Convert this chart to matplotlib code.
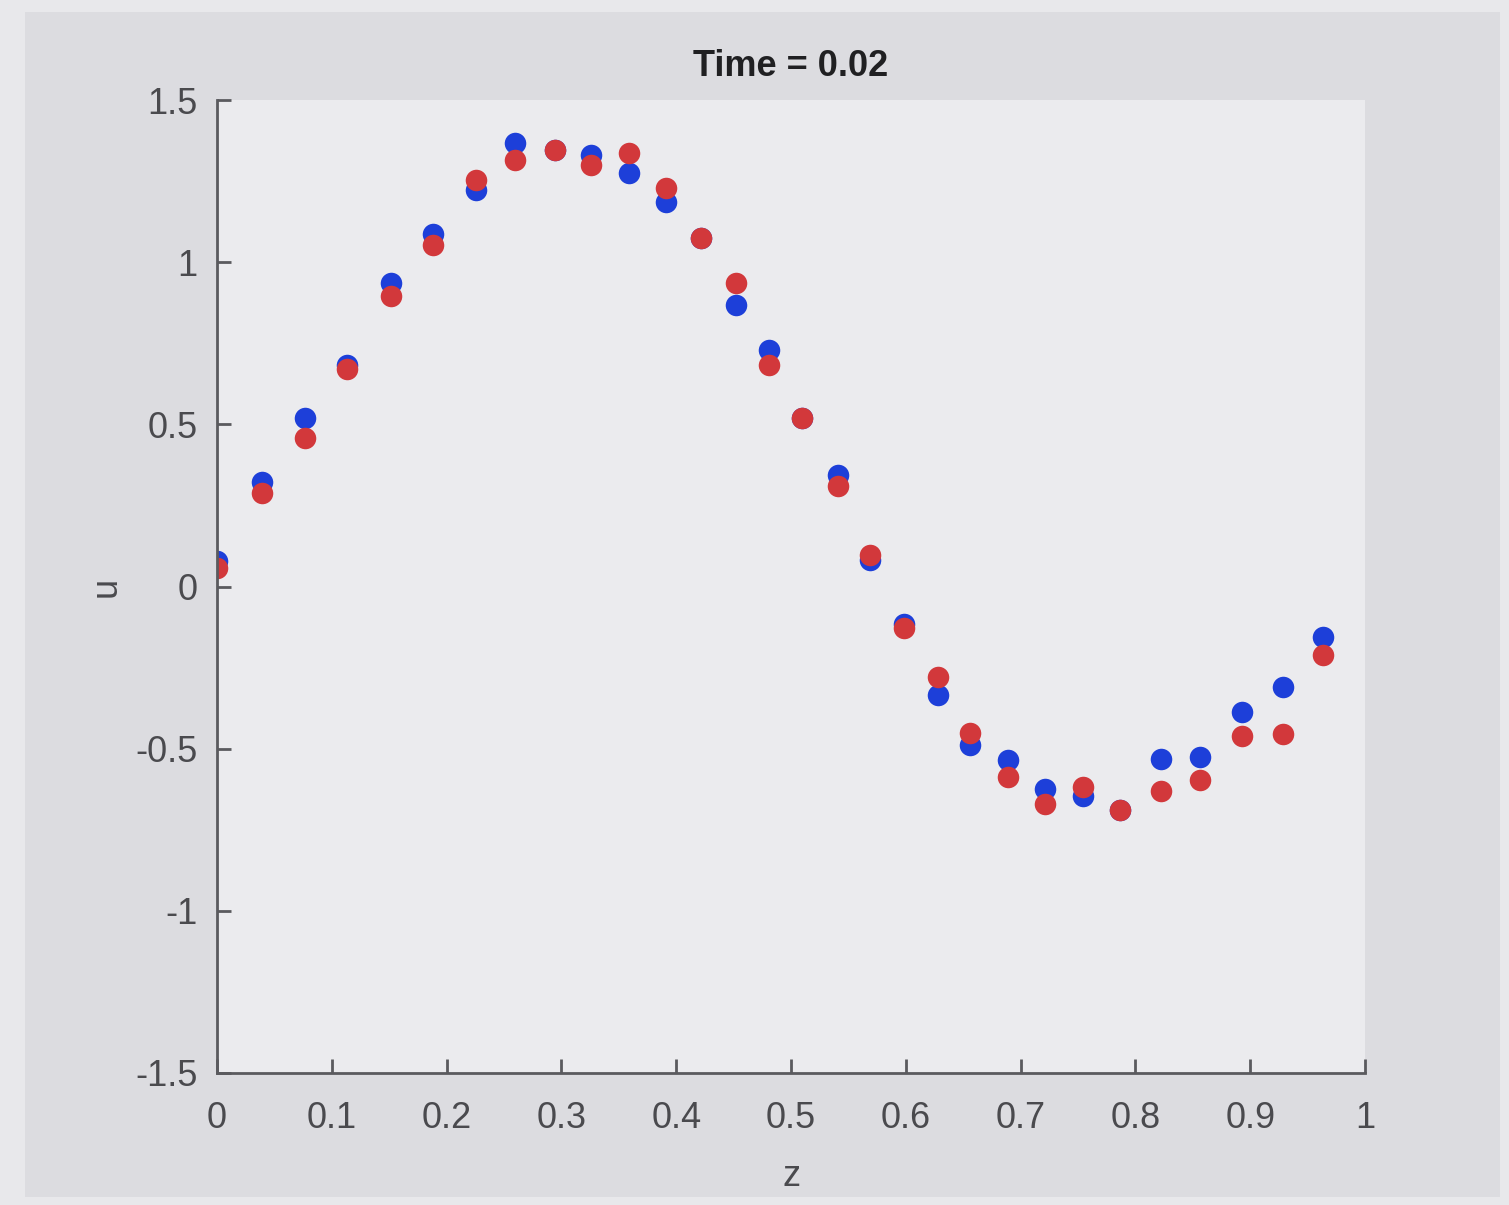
import numpy as np
import matplotlib
matplotlib.use("Agg")
from matplotlib import pyplot as plt
from matplotlib.patches import Rectangle

# grid points along z and the two solutions at t = 0.02
z = [0.000, 0.039, 0.077, 0.113, 0.152, 0.188, 0.226, 0.260, 0.294, 0.326,
     0.359, 0.391, 0.422, 0.452, 0.481, 0.510, 0.541, 0.569, 0.598, 0.628,
     0.656, 0.689, 0.721, 0.754, 0.787, 0.822, 0.856, 0.893, 0.929, 0.963]

u_blue = [0.080, 0.322, 0.520, 0.683, 0.936, 1.087, 1.223, 1.367, 1.346, 1.330,
          1.275, 1.186, 1.075, 0.868, 0.729, 0.520, 0.344, 0.082, -0.116, -0.334,
          -0.489, -0.535, -0.624, -0.646, -0.689, -0.532, -0.526, -0.387, -0.310, -0.155]

u_red = [0.057, 0.288, 0.458, 0.671, 0.896, 1.053, 1.253, 1.315, 1.346, 1.300,
         1.337, 1.229, 1.075, 0.936, 0.683, 0.520, 0.310, 0.097, -0.128, -0.279,
         -0.452, -0.587, -0.671, -0.618, -0.689, -0.631, -0.597, -0.461, -0.455, -0.211]

xticks = [0, 0.1, 0.2, 0.3, 0.4, 0.5, 0.6, 0.7, 0.8, 0.9, 1]
yticks = [-1.5, -1, -0.5, 0, 0.5, 1, 1.5]
title = "Time = 0.02"

plt.rcParams['font.family'] = ['Liberation Sans', 'DejaVu Sans']

fig = plt.figure(figsize=(15.09, 12.05), dpi=100, facecolor="#e8e8eb")
# darker window panel behind the axes
panel = Rectangle((25 / 1509, 8 / 1205), 1475 / 1509, 1185 / 1205,
                  transform=fig.transFigure, facecolor="#dcdce0",
                  edgecolor="none", zorder=-10)
fig.add_artist(panel)

ax = fig.add_axes([217 / 1509, 132 / 1205, 1148 / 1509, 973 / 1205])
ax.set_facecolor("#ebebee")
ax.set_zorder(5)

ax.plot(z, u_blue, "o", color="#1d3fd9", ms=15.5, mec="none")
ax.plot(z, u_red, "o", color="#d2383b", ms=15.5, mec="none")

ax.set_xlim(0, 1)
ax.set_ylim(-1.5, 1.5)
ax.set_xticks(xticks)
ax.set_xticklabels([f"{t:g}" for t in xticks])
ax.set_yticks(yticks)
ax.set_yticklabels([f"{t:g}" for t in yticks])

for side in ("top", "right"):
    ax.spines[side].set_visible(False)
for side in ("left", "bottom"):
    ax.spines[side].set_color("#5a5a5e")
    ax.spines[side].set_linewidth(2)

ax.tick_params(direction="in", length=10, width=2, color="#5a5a5e",
               labelcolor="#4a4a4e", labelsize=26)
ax.tick_params(axis="x", pad=20)
ax.tick_params(axis="y", pad=14)

ax.set_xlabel("z", fontsize=26, color="#4a4a4e", labelpad=17)
ax.set_ylabel("u", fontsize=26, color="#4a4a4e", labelpad=8)
ax.set_title(title, fontsize=26, fontweight="bold", color="#202022", pad=17)

fig.savefig("out.png", dpi=100, facecolor=fig.get_facecolor())
